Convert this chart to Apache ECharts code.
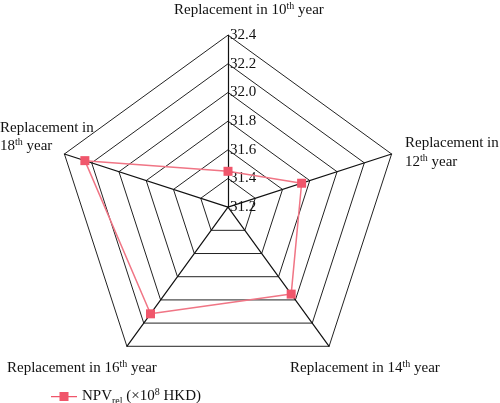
<!DOCTYPE html>
<html>
<head>
<meta charset="utf-8">
<script src="https://cdn.jsdelivr.net/npm/echarts@6/dist/echarts.min.js"></script>
<style>
  html, body { margin: 0; padding: 0; background: #fff; }
  #chart { width: 500px; height: 403px; }
</style>
</head>
<body>
<div id="chart"></div>
<script>
// indicators (replacement year) and values, read clockwise from the top
const years = [10, 12, 14, 16, 18];
const npvRel = [31.45, 31.74, 31.95, 32.12, 32.25];
const axisMin = 31.2;
const axisMax = 32.4;
const seriesName = 'NPV_rel';

// echarts lays radar axes counter-clockwise, so walk the arrays backwards after the first
const order = [0, 4, 3, 2, 1];

const font = 'Liberation Serif';
const ink = '#111';
const supStyle = { fontSize: 10, verticalAlign: 'top', padding: [0, 0, 8, 0], fontFamily: font, color: ink, fill: ink };
const subStyle = { fontSize: 10, verticalAlign: 'bottom', padding: [9, 0, 0, 0], fontFamily: font, color: ink };

// axis names are placed by hand: the source offsets them from the vertices
function nameText(left, top, text, lh) {
  return {
    type: 'text', left: left, top: top,
    style: {
      text: text, fill: ink, font: '15px ' + font, lineHeight: lh || 18,
      rich: { sup: supStyle }
    }
  };
}
const oneLine = y => 'Replacement in ' + y + '{sup|th} year';
const twoLines = y => 'Replacement in\n' + y + '{sup|th} year';

const chart = echarts.init(document.getElementById('chart'));

chart.setOption({
  animation: false,
  textStyle: { fontFamily: font },
  legend: {
    left: 46,
    top: 382,
    itemWidth: 26,
    itemHeight: 9,
    itemGap: 4,
    icon: 'path://M0,4L26,4L26,5.2L0,5.2ZM8.5,0L17.5,0L17.5,9L8.5,9Z',
    textStyle: {
      fontFamily: font, fontSize: 15, color: ink,
      rich: { sub: subStyle, sup: supStyle }
    },
    formatter: () => 'NPV{sub|rel} (×10{sup|8} HKD)',
    data: [seriesName]
  },
  radar: {
    center: ['45.6%', '51.4%'],
    radius: 172,
    startAngle: 90,
    shape: 'polygon',
    splitNumber: 6,
    indicator: order.map((k, i) => ({
      name: String(years[k]), min: axisMin, max: axisMax,
      axisLabel: { show: i === 0 }
    })),
    axisName: { show: false },
    splitArea: { show: false },
    splitLine: { lineStyle: { color: '#222', width: 1 } },
    axisLine: { lineStyle: { color: ink, width: 1.2 } },
    axisTick: { show: false },
    axisLabel: {
      show: true, color: ink, fontSize: 15, fontFamily: font,
      align: 'left', margin: -2,
      showMinLabel: true, showMaxLabel: true,
      formatter: v => v.toFixed(1)
    }
  },
  graphic: [
    nameText(174, 1, oneLine(years[0])),
    nameText(405, 134, twoLines(years[1]), 19),
    nameText(290, 359, oneLine(years[2])),
    nameText(7, 359, oneLine(years[3])),
    nameText(0, 119, twoLines(years[4]))
  ],
  series: [{
    type: 'radar',
    name: seriesName,
    symbol: 'rect',
    symbolSize: 9,
    itemStyle: { color: '#f0566b' },
    lineStyle: { color: '#f07585', width: 1.5 },
    data: [{ value: order.map(k => npvRel[k]), name: seriesName }]
  }]
});
</script>
</body>
</html>
